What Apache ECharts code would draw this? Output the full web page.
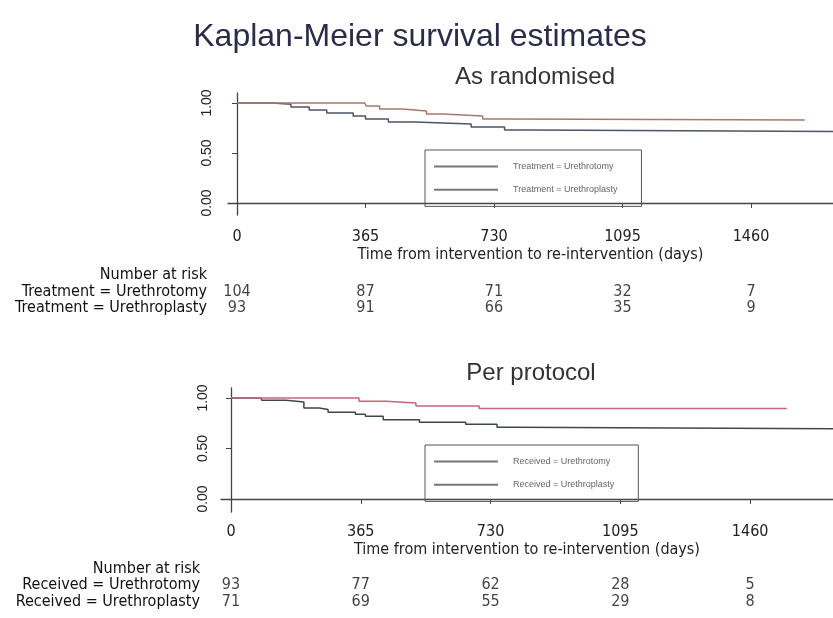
<!DOCTYPE html>
<html>
<head>
<meta charset="utf-8">
<script src="https://cdn.jsdelivr.net/npm/echarts@6/dist/echarts.min.js"></script>
<style>
  html, body { margin: 0; padding: 0; background: #fff; }
  #chart { width: 833px; height: 618px; }
</style>
</head>
<body>
<div id="chart"></div>
<script>
// tick positions (days) and risk table columns
var tickDays = [0, 365, 730, 1095, 1460];
var yTicks = [0, 0.5, 1];

// As randomised: [day, survival]
var ranOtomy = [[0, 1.0], [100, 0.987], [153, 0.96], [205, 0.93], [255, 0.90], [330, 0.87], [365, 0.84],
  [430, 0.81], [505, 0.79], [665, 0.76], [760, 0.73], [830, 0.715], [1693, 0.715]];
var ranPlasty = [[0, 1.0], [363, 1.0], [367, 0.97], [405, 0.94], [470, 0.92], [538, 0.89], [585, 0.87],
  [698, 0.84], [775, 0.83], [1613, 0.83]];

// Per protocol: [day, survival]
var ppOtomy = [[0, 1.0], [84, 0.99], [87, 0.977], [155, 0.96], [205, 0.90], [248, 0.885], [273, 0.86],
  [350, 0.84], [378, 0.82], [428, 0.785], [530, 0.76], [660, 0.74], [748, 0.71], [798, 0.695], [1693, 0.695]];
var ppPlasty = [[0, 1.0], [360, 0.967], [436, 0.95], [520, 0.92], [698, 0.895], [1563, 0.895]];

// number at risk
var ranRows = ['Number at risk', 'Treatment = Urethrotomy', 'Treatment = Urethroplasty'];
var ranOtomyRisk = [104, 87, 71, 32, 7];
var ranPlastyRisk = [93, 91, 66, 35, 9];
var ppRows = ['Number at risk', 'Received = Urethrotomy', 'Received = Urethroplasty'];
var ppOtomyRisk = [93, 77, 62, 28, 5];
var ppPlastyRisk = [71, 69, 55, 29, 8];

var narrow = "'Liberation Sans Narrow', 'DejaVu Sans Condensed', sans-serif";
var sans = "'Liberation Sans', Arial, sans-serif";
var axisCol = '#444';

function riskData(a, b) {
  var out = [];
  tickDays.forEach(function (d, i) {
    out.push({ value: [d, 1, a[i]] });
    out.push({ value: [d, 2, b[i]] });
  });
  return out;
}

function kmX(idx, min, max, margin, gap) {
  return {
    gridIndex: idx, type: 'value', min: min, max: max,
    axisLine: { lineStyle: { color: axisCol, width: 1.3 } },
    axisTick: { customValues: tickDays, length: 5, lineStyle: { color: axisCol } },
    axisLabel: {
      customValues: tickDays, margin: margin, fontSize: 16, fontFamily: narrow, color: '#222',
      formatter: function (v) { return String(v); }
    },
    splitLine: { show: false },
    name: 'Time from intervention to re-intervention (days)',
    nameLocation: 'middle', nameGap: gap,
    nameTextStyle: { fontSize: 16, fontFamily: narrow, color: '#222' }
  };
}
function kmY(idx, min, max, margin) {
  return {
    gridIndex: idx, type: 'value', min: min, max: max,
    axisLine: { show: true, lineStyle: { color: axisCol, width: 1.3 } },
    axisTick: { show: true, customValues: yTicks, length: 5, lineStyle: { color: axisCol } },
    axisLabel: {
      customValues: yTicks, rotate: 90, margin: margin, fontSize: 14, fontFamily: sans, color: '#222',
      formatter: function (v) { return v.toFixed(2); }
    },
    splitLine: { show: false }
  };
}
function riskX(idx, min, max) {
  return { gridIndex: idx, type: 'value', min: min, max: max, show: false };
}
function riskY(idx, rows) {
  return {
    gridIndex: idx, type: 'category', data: rows, inverse: true,
    axisLine: { show: false }, axisTick: { show: false },
    axisLabel: { interval: 0, margin: 21, fontSize: 16, fontFamily: narrow, color: '#111' }
  };
}
function km(name, data, color, idx) {
  return {
    name: name, type: 'line', step: 'end', data: data, symbol: 'none',
    xAxisIndex: idx, yAxisIndex: idx,
    lineStyle: { color: color, width: 1.5 }, itemStyle: { color: color }
  };
}
function risk(data, idx) {
  return {
    type: 'scatter', data: data, xAxisIndex: idx, yAxisIndex: idx,
    symbolSize: 1, itemStyle: { color: 'rgba(0,0,0,0)' },
    label: {
      show: true, position: 'inside', fontSize: 16, fontFamily: narrow, color: '#111',
      formatter: function (p) { return String(p.value[2]); }
    }
  };
}
function legend(top, names) {
  return {
    left: 425, top: top, orient: 'vertical',
    data: names,
    itemWidth: 64, itemHeight: 14, itemGap: 12,
    padding: [11, 24, 11, 8],
    borderColor: '#555', borderWidth: 1,
    lineStyle: { color: '#777' }, itemStyle: { opacity: 0 },
    textStyle: { fontSize: 9, fontFamily: sans, color: '#666', padding: [0, 0, 0, 10] }
  };
}

var chart = echarts.init(document.getElementById('chart'));
chart.setOption({
  backgroundColor: '#fff',
  animation: false,
  graphic: [
    { type: 'text', style: { text: 'Kaplan-Meier survival estimates', x: 420, y: 37, textAlign: 'center', textVerticalAlign: 'middle', fontSize: 32, fontFamily: sans, fill: '#2b2b4b' } },
    { type: 'text', style: { text: 'As randomised', x: 535, y: 77, textAlign: 'center', textVerticalAlign: 'middle', fontSize: 24, fontFamily: sans, fill: '#333' } },
    { type: 'text', style: { text: 'Per protocol', x: 531, y: 373, textAlign: 'center', textVerticalAlign: 'middle', fontSize: 24, fontFamily: sans, fill: '#333' } }
  ],
  legend: [
    legend(150, ['Treatment = Urethrotomy', 'Treatment = Urethroplasty']),
    legend(445, ['Received = Urethrotomy', 'Received = Urethroplasty'])
  ],
  grid: [
    { left: 228, top: 93, width: 605, height: 122 },
    { left: 228, top: 267, width: 605, height: 49.5 },
    { left: 221, top: 388, width: 612, height: 124 },
    { left: 221, top: 560.5, width: 612, height: 49.5 }
  ],
  xAxis: [
    kmX(0, -25.6, 1693, 14, 32),
    riskX(1, -25.6, 1693),
    kmX(2, -28.1, 1693, 12, 30),
    riskX(3, -28.1, 1693)
  ],
  yAxis: [
    kmY(0, -0.12, 1.10, 14),
    riskY(1, ranRows),
    kmY(2, -0.129, 1.099, 11),
    riskY(3, ppRows)
  ],
  series: [
    km('Treatment = Urethrotomy', ranOtomy, '#4b566a', 0),
    km('Treatment = Urethroplasty', ranPlasty, '#a8786e', 0),
    risk(riskData(ranOtomyRisk, ranPlastyRisk), 1),
    km('Received = Urethrotomy', ppOtomy, '#3f4848', 2),
    km('Received = Urethroplasty', ppPlasty, '#c06a78', 2),
    risk(riskData(ppOtomyRisk, ppPlastyRisk), 3)
  ]
});
</script>
</body>
</html>
